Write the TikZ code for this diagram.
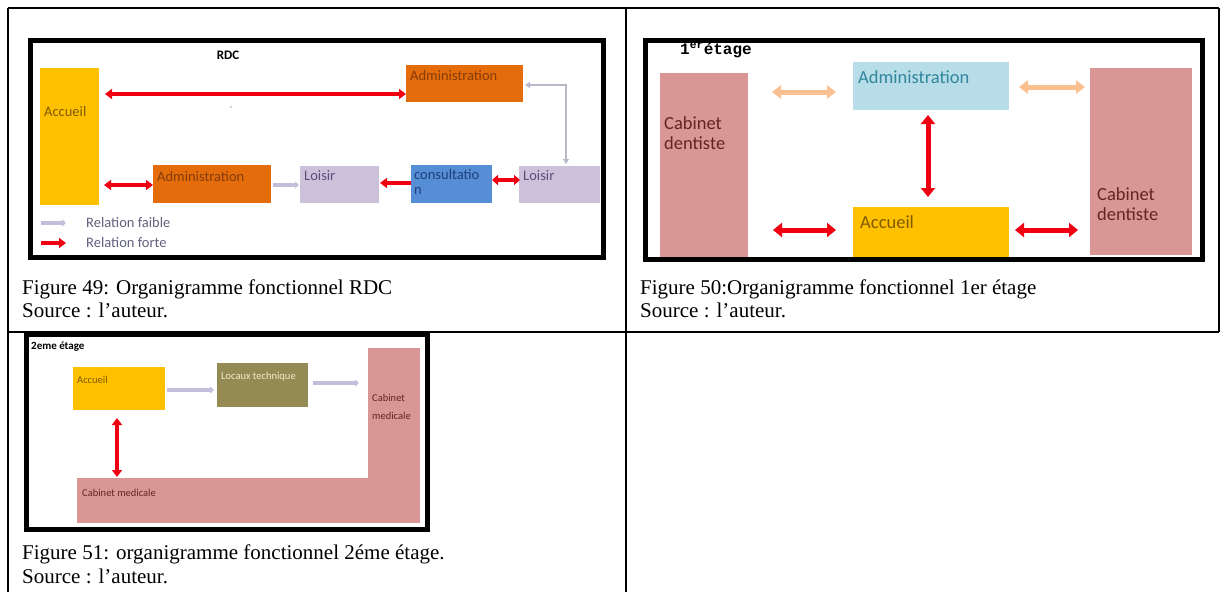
\documentclass[tikz,border=0pt]{standalone}
\usepackage{fontspec}
\setmainfont{Liberation Serif}
\newfontfamily\calfont{Carlito}
\newfontfamily\monobold{Liberation Mono}
\usetikzlibrary{arrows.meta}
\definecolor{goldB}{HTML}{FFC000}
\definecolor{orangeB}{HTML}{E46C0A}
\definecolor{lavB}{HTML}{CCC1DA}
\definecolor{blueB}{HTML}{558ED5}
\definecolor{lblueB}{HTML}{B7DEE8}
\definecolor{roseB}{HTML}{D99694}
\definecolor{oliveB}{HTML}{948A54}
\definecolor{tanA}{HTML}{FAC090}
\definecolor{redA}{HTML}{F00010}
\definecolor{grayA}{HTML}{C4BEDC}
\definecolor{grayE}{HTML}{B8B8C8}
\definecolor{accT}{HTML}{7F5A00}
\definecolor{admT}{HTML}{843C0C}
\definecolor{loiT}{HTML}{604A7B}
\definecolor{conT}{HTML}{1F3F7D}
\definecolor{legT}{HTML}{60607F}
\definecolor{cabT}{HTML}{632523}
\definecolor{adm2T}{HTML}{31859C}
\definecolor{locT}{HTML}{F2ECC8}
\tikzset{
  box/.style={draw=none, inner sep=0pt, anchor=north west},
  frame/.style={draw=black, line width=5pt},
  tab/.style={draw=black, line width=2pt},
  lab/.style={inner sep=0pt, anchor=west, font=\calfont\fontsize{14.5}{15}\selectfont},
  labB/.style={inner sep=0pt, anchor=west, align=left, font=\calfont\fontsize{18.5}{20}\selectfont},
  labC/.style={inner sep=0pt, anchor=west, align=left, font=\calfont\fontsize{10.5}{18}\selectfont},
  capt/.style={inner sep=0pt, anchor=base west, font=\fontsize{21}{23}\selectfont},
  redtwo/.style={draw=redA, line width=3.5pt, {Triangle[length=7pt,width=10pt]}-{Triangle[length=7pt,width=10pt]}},
  redone/.style={draw=redA, line width=3.5pt, -{Triangle[length=7pt,width=10pt]}},
  bigred/.style={draw=redA, line width=5pt, {Triangle[length=9pt,width=14pt]}-{Triangle[length=9pt,width=14pt]}},
  bigtan/.style={draw=tanA, line width=5pt, {Triangle[length=9pt,width=13pt]}-{Triangle[length=9pt,width=13pt]}},
  weak/.style={draw=grayA, line width=3.5pt, -{Triangle[length=4pt,width=7pt]}},
  elbow/.style={draw=grayE, line width=1.5pt, {Triangle[length=5pt,width=6pt]}-{Triangle[length=5pt,width=6pt]}},
}
\begin{document}
\begin{tikzpicture}[x=1pt,y=-1pt]
\useasboundingbox (0,0) rectangle (1222,592);
\fill[white] (0,0) rectangle (1222,592);

% ---------- table lines ----------
\draw[tab] (8,8) -- (1219,8);
\draw[tab] (8,8) -- (8,592);
\draw[tab] (626,8) -- (626,592);
\draw[tab] (1219,8) -- (1219,332);
\draw[tab] (8,332) -- (1219,332);

% ---------- Panel 1 : RDC ----------
\fill[white] (30,40) rectangle (603,257);
\node[box, fill=goldB, minimum width=59pt, minimum height=137pt] (acc1) at (40,68) {};
\node[box, fill=orangeB, minimum width=117pt, minimum height=37pt] (adm1) at (406,65) {};
\node[box, fill=orangeB, minimum width=118pt, minimum height=38pt] (adm2) at (153,165) {};
\node[box, fill=lavB, minimum width=79pt, minimum height=37pt] (loi1) at (300,166) {};
\node[box, fill=blueB, minimum width=81pt, minimum height=38pt] (con1) at (411,165) {};
\node[box, fill=lavB, minimum width=81pt, minimum height=37pt] (loi2) at (519,166) {};

\node[lab, font=\calfont\bfseries\fontsize{13}{15}\selectfont, anchor=center] (rdc) at (228,55) {RDC};
\node[lab, text=accT] (acc1t) at (44,112) {Accueil};
\node[lab, text=admT] (adm1t) at (410,76) {Administration};
\node[lab, text=admT] (adm2t) at (157,177) {Administration};
\node[lab, text=loiT] (loi1t) at (304,176) {Loisir};
\node[lab, text=conT, anchor=north west, align=left] (con1t) at (414,169) {consultatio\\n};
\node[lab, text=loiT] (loi2t) at (523,176) {Loisir};
\fill[gray!70] (231,107) circle (0.8pt);

\coordinate (r1a) at (105,94);
\coordinate (r1b) at (406,94);
\draw[redtwo] (r1a) -- (r1b);
\coordinate (r2a) at (104,185);
\coordinate (r2b) at (153,185);
\draw[redtwo] (r2a) -- (r2b);
\coordinate (g1a) at (273,185);
\coordinate (g1b) at (299,185);
\draw[weak] (g1a) -- (g1b);
\coordinate (r3a) at (411,183);
\coordinate (r3b) at (380,183);
\draw[redone] (r3a) -- (r3b);
\coordinate (r4a) at (492,180);
\coordinate (r4b) at (520,180);
\draw[redtwo, {Triangle[length=6pt,width=10pt]}-{Triangle[length=6pt,width=10pt]}] (r4a) -- (r4b);
\coordinate (e1) at (566,164);
\coordinate (e2) at (525,85);
\draw[elbow] (e1) |- (e2);

% legend
\coordinate (lg1a) at (41,223);
\coordinate (lg1b) at (66,223);
\draw[weak] (lg1a) -- (lg1b);
\node[lab, text=legT] (lg1t) at (86,223) {Relation faible};
\coordinate (lg2a) at (41,243);
\coordinate (lg2b) at (66,243);
\draw[redone] (lg2a) -- (lg2b);
\node[lab, text=legT] (lg2t) at (86,243) {Relation forte};

\draw[frame] (30,40) rectangle (603,257);

\node[capt] (cap1) at (22,294) {Figure 49: Organigramme fonctionnel RDC};
\node[capt] (src1) at (22,317) {Source : l’auteur.};

% ---------- Panel 2 : 1er etage ----------
\node[box, fill=roseB, minimum width=88pt, minimum height=184pt] (cab1) at (660,73) {};
\node[box, fill=lblueB, minimum width=156pt, minimum height=48pt] (adm3) at (853,62) {};
\node[box, fill=goldB, minimum width=156pt, minimum height=50pt] (acc2) at (853,207) {};
\node[box, fill=roseB, minimum width=102pt, minimum height=187pt] (cab2) at (1090,68) {};

\node[inner sep=0pt, anchor=west, font=\monobold\bfseries\fontsize{16}{18}\selectfont] (et1) at (680,50) {1\textsuperscript{er}étage};
\node[labB, text=cabT, anchor=north west] (cab1t) at (664,116) {Cabinet\\dentiste};
\node[labB, text=adm2T] (adm3t) at (858,77) {Administration};
\node[labB, text=accT] (acc2t) at (860,222) {Accueil};
\node[labB, text=cabT, anchor=north west] (cab2t) at (1097,187) {Cabinet\\dentiste};

\coordinate (t1a) at (772,92);
\coordinate (t1b) at (836,92);
\draw[bigtan] (t1a) -- (t1b);
\coordinate (t2a) at (1019,87);
\coordinate (t2b) at (1085,87);
\draw[bigtan] (t2a) -- (t2b);
\coordinate (v1a) at (928,115);
\coordinate (v1b) at (928,197);
\draw[bigred] (v1a) -- (v1b);
\coordinate (h1a) at (773,230);
\coordinate (h1b) at (836,230);
\draw[bigred] (h1a) -- (h1b);
\coordinate (h2a) at (1015,230);
\coordinate (h2b) at (1078,230);
\draw[bigred] (h2a) -- (h2b);

\draw[frame] (645,40) rectangle (1202,259);

\node[capt] (cap2) at (640,294) {Figure 50:Organigramme fonctionnel 1er étage};
\node[capt] (src2) at (640,317) {Source : l’auteur.};

% ---------- Panel 3 : 2eme etage ----------
\fill[white] (26,334) rectangle (427,529);
\node[box, fill=goldB, minimum width=92pt, minimum height=43pt] (acc3) at (73,367) {};
\node[box, fill=oliveB, minimum width=91pt, minimum height=44pt] (loc) at (217,363) {};
\node[box, fill=roseB, minimum width=52pt, minimum height=175pt] (cabv) at (368,348) {};
\node[box, fill=roseB, minimum width=343pt, minimum height=45pt] (cabh) at (77,478) {};

\node[labC, font=\calfont\bfseries\fontsize{11}{13}\selectfont] (et2) at (31,347) {2eme étage};
\node[labC, text=accT] (acc3t) at (77,380) {Accueil};
\node[labC, text=locT] (loct) at (221,377) {Locaux technique};
\node[labC, text=cabT, anchor=north west] (cabvt) at (372,394) {Cabinet\\medicale};
\node[labC, text=cabT] (cabht) at (82,493) {Cabinet medicale};

\coordinate (g2a) at (167,390);
\coordinate (g2b) at (214,390);
\draw[weak] (g2a) -- (g2b);
\coordinate (g3a) at (313,383);
\coordinate (g3b) at (359,383);
\draw[weak] (g3a) -- (g3b);
\coordinate (v2a) at (117,418);
\coordinate (v2b) at (117,477);
\draw[redtwo] (v2a) -- (v2b);

\draw[frame] (26,334) rectangle (427,529);

\node[capt] (cap3) at (22,559) {Figure 51: organigramme fonctionnel 2éme étage.};
\node[capt] (src3) at (22,583) {Source : l’auteur.};
\end{tikzpicture}
\end{document}
